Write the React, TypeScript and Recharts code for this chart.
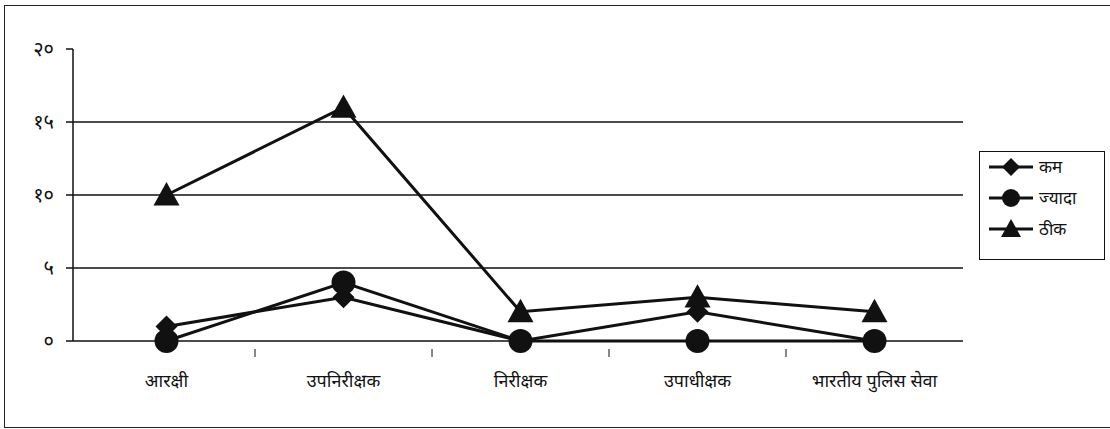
import React from "react";
import { LineChart, Line, XAxis, YAxis, ReferenceLine, Legend } from "recharts";

const categories = ["आरक्षी", "उपनिरीक्षक", "निरीक्षक", "उपाधीक्षक", "भारतीय पुलिस सेवा"];
const kam = [1, 3, 0, 2, 0];
const jyada = [0, 4, 0, 0, 0];
const theek = [10, 16, 2, 3, 2];
const yTicks = [0, 5, 10, 15, 20];
const gridValues = [5, 10, 15];
const devanagariDigits = ["०", "१", "२", "३", "४", "५", "६", "७", "८", "९"];

const seriesNames = { kam: "कम", jyada: "ज्यादा", theek: "ठीक" };

const data = categories.map((name, i) => ({
  name,
  kam: kam[i],
  jyada: jyada[i],
  theek: theek[i],
}));

const toDevanagari = (v: number) =>
  String(v)
    .split("")
    .map((c) => devanagariDigits[Number(c)] ?? c)
    .join("");

const FONT = "'Noto Sans', 'DejaVu Sans', sans-serif";
const INK = "#111";

function Diamond({ cx, cy, s = 11 }: { cx: number; cy: number; s?: number }) {
  return <polygon points={`${cx},${cy - s} ${cx + s},${cy} ${cx},${cy + s} ${cx - s},${cy}`} fill={INK} />;
}

function Circle({ cx, cy, r = 12 }: { cx: number; cy: number; r?: number }) {
  return <circle cx={cx} cy={cy} r={r} fill={INK} />;
}

function Triangle({ cx, cy, s = 13 }: { cx: number; cy: number; s?: number }) {
  return <polygon points={`${cx},${cy - s} ${cx + s},${cy + s * 0.8} ${cx - s},${cy + s * 0.8}`} fill={INK} />;
}

const dotFor = (kind: string) => (props: any) => {
  const { cx, cy, index } = props;
  if (cx == null || cy == null) return <g key={index} />;
  if (kind === "kam") return <Diamond key={index} cx={cx} cy={cy} />;
  if (kind === "jyada") return <Circle key={index} cx={cx} cy={cy} />;
  return <Triangle key={index} cx={cx} cy={cy} />;
};

function CategoryTick(props: any) {
  const { x, y, payload, index } = props;
  const last = index === categories.length - 1;
  const half = payload.offset ?? 0;
  return (
    <g>
      {!last && <line x1={x + half} y1={y} x2={x + half} y2={y + 8} stroke={INK} strokeWidth={1} />}
      <text x={x} y={y + 38} textAnchor="middle" fontSize={18} fontFamily={FONT} fill={INK}>
        {payload.value}
      </text>
    </g>
  );
}

function LegendBox() {
  const rows = [
    { key: "kam", label: seriesNames.kam },
    { key: "jyada", label: seriesNames.jyada },
    { key: "theek", label: seriesNames.theek },
  ];
  return (
    <svg width={126} height={109} style={{ display: "block" }}>
      <rect x={0.5} y={0.5} width={125} height={108} fill="#fff" stroke={INK} strokeWidth={1} />
      {rows.map((r, i) => {
        const y = 16 + i * 31;
        return (
          <g key={r.key}>
            <line x1={10} y1={y} x2={54} y2={y} stroke={INK} strokeWidth={3} />
            {r.key === "kam" && <Diamond cx={32} cy={y} s={9} />}
            {r.key === "jyada" && <Circle cx={32} cy={y} r={9} />}
            {r.key === "theek" && <Triangle cx={32} cy={y} s={10} />}
            <text x={60} y={y + 6} fontSize={17} fontFamily={FONT} fill={INK}>
              {r.label}
            </text>
          </g>
        );
      })}
    </svg>
  );
}

export default function App() {
  return (
    <div
      style={{
        position: "absolute",
        left: 4,
        top: 5,
        width: 1106,
        height: 421,
        borderLeft: "1.5px solid #222",
        borderTop: "1.5px solid #222",
        borderBottom: "1.5px solid #222",
        background: "#fff",
      }}
    >
      <LineChart
        width={1106}
        height={421}
        data={data}
        margin={{ top: 43, right: 22, left: 18, bottom: 56 }}
      >
        <XAxis
          dataKey="name"
          scale="band"
          stroke={INK}
          strokeWidth={1.5}
          tickLine={false}
          tick={<CategoryTick />}
          height={30}
          padding={{ left: 5, right: 0 }}
          interval={0}
        />
        <YAxis
          domain={[0, 20]}
          ticks={yTicks}
          tickFormatter={toDevanagari}
          stroke={INK}
          strokeWidth={1.5}
          tickSize={7}
          tickMargin={12}
          width={50}
          tick={{ fontSize: 20, fontFamily: FONT, fill: INK }}
          interval={0}
        />
        {gridValues.map((v) => (
          <ReferenceLine key={v} y={v} stroke={INK} strokeWidth={1.5} />
        ))}
        <Line
          dataKey="kam"
          name={seriesNames.kam}
          stroke={INK}
          strokeWidth={3}
          dot={dotFor("kam")}
          activeDot={false}
          isAnimationActive={false}
        />
        <Line
          dataKey="jyada"
          name={seriesNames.jyada}
          stroke={INK}
          strokeWidth={3}
          dot={dotFor("jyada")}
          activeDot={false}
          isAnimationActive={false}
        />
        <Line
          dataKey="theek"
          name={seriesNames.theek}
          stroke={INK}
          strokeWidth={3}
          dot={dotFor("theek")}
          activeDot={false}
          isAnimationActive={false}
        />
        <Legend
          layout="vertical"
          align="right"
          verticalAlign="top"
          content={() => <LegendBox />}
          wrapperStyle={{ left: 974, top: 145, width: 126 }}
        />
      </LineChart>
    </div>
  );
}
